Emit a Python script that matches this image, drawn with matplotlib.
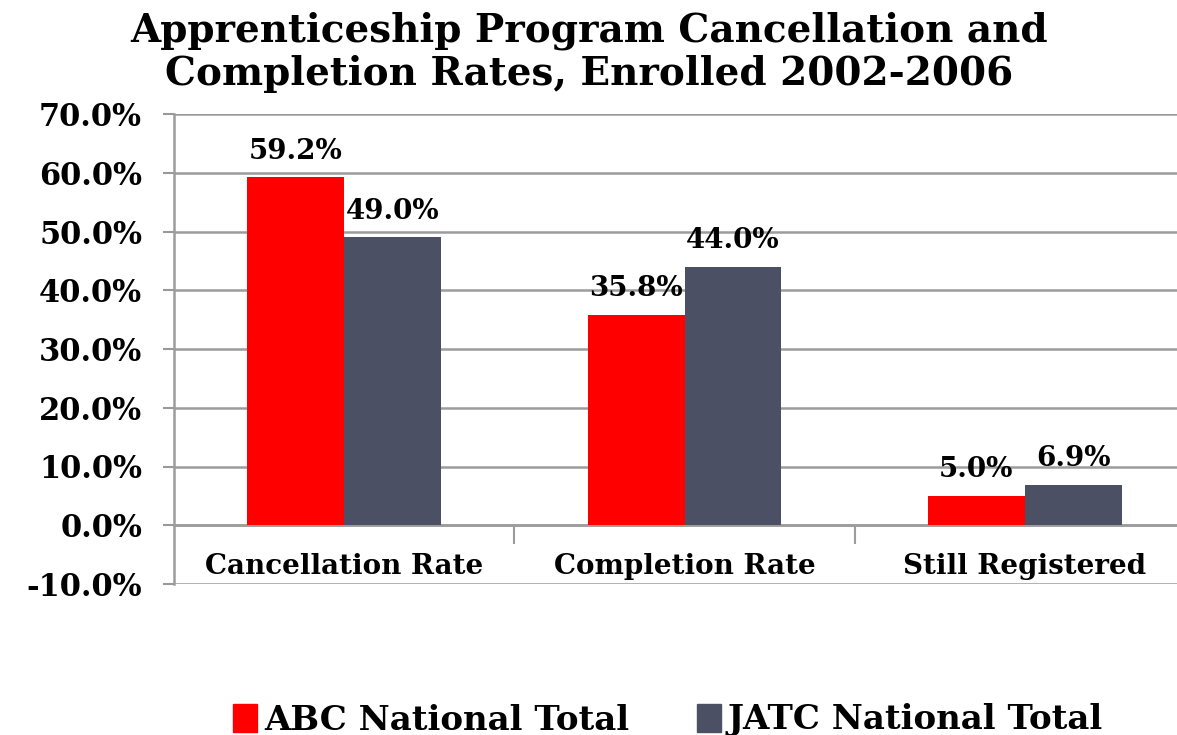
import matplotlib
matplotlib.use("Agg")
import matplotlib.pyplot as plt
import numpy as np
from matplotlib.patches import Patch

plt.rcParams['font.family'] = 'DejaVu Serif'
plt.rcParams['font.weight'] = 'bold'

categories = ['Cancellation Rate', 'Completion Rate', 'Still Registered']
abc = [59.2, 35.8, 5.0]
jatc = [49.0, 44.0, 6.9]
series_names = ['ABC National Total', 'JATC National Total']
colors = ['#FF0000', '#4B5064']
yticks = np.arange(-10, 71, 10)

fig = plt.figure(figsize=(11.77, 7.35), dpi=100)
ax = fig.add_axes([174 / 1177, 1 - 584 / 735, 1021 / 1177, 470 / 735])

x = np.arange(len(categories))
w = 0.285
b1 = ax.bar(x - w / 2, abc, w, color=colors[0], zorder=3)
b2 = ax.bar(x + w / 2, jatc, w, color=colors[1], zorder=3)

for bars, vals in [(b1, abc), (b2, jatc)]:
    for bar, v in zip(bars, vals):
        ax.annotate(f'{v:.1f}%', (bar.get_x() + bar.get_width() / 2, v),
                    xytext=(0, 9), textcoords='offset points',
                    ha='center', va='bottom', fontsize=20, fontweight='bold')

ax.set_xlim(-0.5, 2.5)
ax.set_ylim(-10, 70)
ax.set_yticks(yticks)
ax.set_yticklabels([f'{t:.1f}%' for t in yticks], fontsize=22, fontweight='bold')
ax.tick_params(axis='y', length=8, width=1.5, color='#999999', pad=15)
ax.yaxis.grid(True, color='#9C9C9C', linewidth=1.8, zorder=0)

# category axis sits at zero
ax.spines['bottom'].set_position(('data', 0))
ax.spines['bottom'].set_color('#9C9C9C')
ax.spines['bottom'].set_linewidth(1.8)
ax.spines['left'].set_color('#9C9C9C')
ax.spines['left'].set_linewidth(1.8)
ax.spines['top'].set_visible(False)
ax.spines['right'].set_visible(False)
ax.set_xticks([0.5, 1.5])
ax.set_xticklabels([])
ax.set_xticks(x, minor=True)
ax.set_xticklabels(categories, minor=True, fontsize=20, fontweight='bold')
ax.tick_params(axis='x', which='major', length=14, width=1.5, color='#9C9C9C', direction='out')
ax.tick_params(axis='x', which='minor', length=0, pad=20)

fig.text(589 / 1177, 1 - 52 / 735,
         'Apprenticeship Program Cancellation and\nCompletion Rates, Enrolled 2002-2006',
         ha='center', va='center', fontsize=28, fontweight='bold', linespacing=1.18)

handles = [Patch(color=c) for c in colors]
fig.legend(handles, series_names, loc='center', bbox_to_anchor=(668 / 1177, 1 - 720 / 735),
           ncol=2, frameon=False, prop={'size': 24.5, 'weight': 'bold'},
           handlelength=0.7, handleheight=0.9, handletextpad=0.2, columnspacing=2.0)

fig.savefig('out.png', dpi=100)
